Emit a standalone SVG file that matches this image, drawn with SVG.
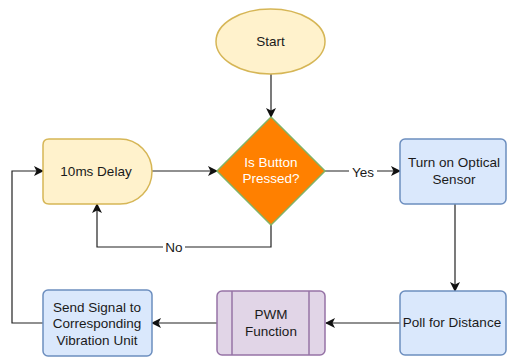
<svg xmlns="http://www.w3.org/2000/svg" width="507" height="358" viewBox="0 0 507 358">
  <style>
    text { font-family: "Liberation Sans", Arial, sans-serif; font-size: 13.5px; fill: #1a1a1a; text-anchor: middle; }
    .yellow { fill: #fff2cc; stroke: #d6b656; stroke-width: 1.5; }
    .blue { fill: #dae8fc; stroke: #6c8ebf; stroke-width: 1.5; }
    .purple { fill: #e1d5e7; stroke: #9673a6; stroke-width: 1.5; }
    .decision { fill: #ff8000; stroke: #82b366; stroke-width: 1.5; }
    .edge { fill: none; stroke: #222; stroke-width: 1.2; }
    .lbl { fill: #ffffff; }
  </style>
  <defs>
    <marker id="arrow" viewBox="0 0 10 10" refX="9" refY="5" markerWidth="10" markerHeight="10" markerUnits="userSpaceOnUse" orient="auto">
      <path d="M0,0 L10,5 L0,10 L2.5,5 Z" fill="#111"/>
    </marker>
  </defs>

  <rect width="507" height="358" fill="#ffffff"/>

  <g id="connectors">
    <path class="edge" d="M271,74 L271,117" marker-end="url(#arrow)"/>
    <path class="edge" d="M152,171 L217,171" marker-end="url(#arrow)"/>
    <path class="edge" d="M325,171 L400,171" marker-end="url(#arrow)"/>
    <path class="edge" d="M271,225 L271,247 L97,247 L97,204" marker-end="url(#arrow)"/>
    <path class="edge" d="M455,204 L455,291" marker-end="url(#arrow)"/>
    <path class="edge" d="M400,323 L326,323" marker-end="url(#arrow)"/>
    <path class="edge" d="M217,323 L152,323" marker-end="url(#arrow)"/>
    <path class="edge" d="M43,323 L12,323 L12,171 L43,171" marker-end="url(#arrow)"/>
    <rect x="349" y="163" width="28" height="16" fill="#ffffff"/>
    <text x="363" y="177">Yes</text>
    <rect x="163" y="239" width="22" height="16" fill="#ffffff"/>
    <text x="174" y="252">No</text>
  </g>

  <g id="start">
    <ellipse class="yellow" cx="270.5" cy="41.5" rx="54.5" ry="32.5"/>
    <text x="270.5" y="46">Start</text>
  </g>

  <g id="button-pressed">
    <path class="decision" d="M271,117 L325,171 L271,225 L217,171 Z"/>
    <text class="lbl" x="271" y="167">Is Button</text>
    <text class="lbl" x="271" y="183">Pressed?</text>
  </g>

  <g id="delay">
    <path class="yellow" d="M49,139 L120,139 A32,32.5 0 0 1 120,204 L49,204 Q43,204 43,198 L43,145 Q43,139 49,139 Z"/>
    <text x="96" y="176">10ms Delay</text>
  </g>

  <g id="optical-sensor">
    <rect class="blue" x="400" y="139" width="106" height="65" rx="5"/>
    <text x="454" y="167">Turn on Optical</text>
    <text x="454" y="184">Sensor</text>
  </g>

  <g id="poll-distance">
    <rect class="blue" x="400" y="291" width="106" height="64" rx="5"/>
    <text x="452" y="327">Poll for Distance</text>
  </g>

  <g id="pwm">
    <rect class="purple" x="217" y="291" width="108" height="64" rx="5"/>
    <line class="purple" x1="232" y1="291" x2="232" y2="355"/>
    <line class="purple" x1="309" y1="291" x2="309" y2="355"/>
    <text x="271" y="319">PWM</text>
    <text x="271" y="336">Function</text>
  </g>

  <g id="send-signal">
    <rect class="blue" x="43" y="290" width="109" height="66" rx="5"/>
    <text x="97" y="312">Send Signal to</text>
    <text x="97" y="328">Corresponding</text>
    <text x="97" y="345">Vibration Unit</text>
  </g>
</svg>
